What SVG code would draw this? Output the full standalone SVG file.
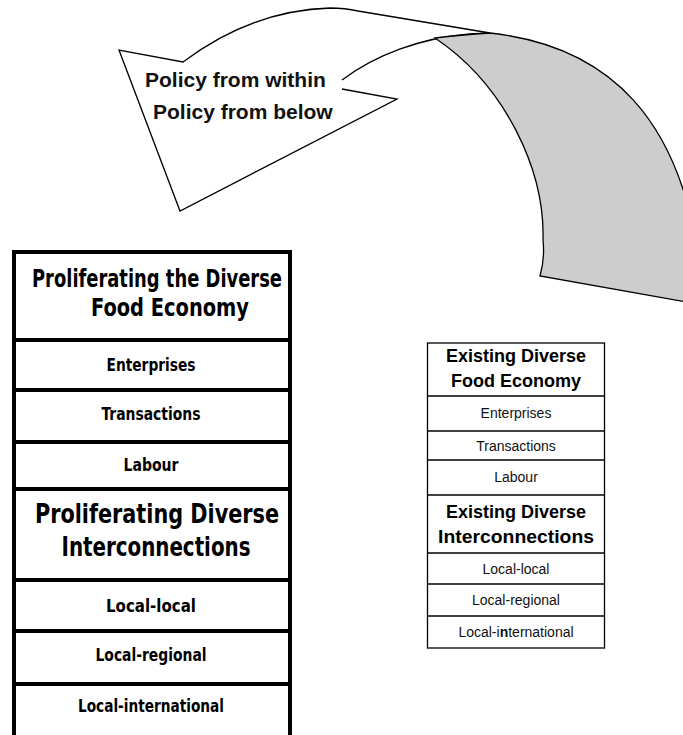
<svg xmlns="http://www.w3.org/2000/svg" width="683" height="735" viewBox="0 0 683 735">
<style>
.ttl{font-family:"Liberation Sans Narrow","DejaVu Sans Condensed","Arial Narrow",sans-serif;font-weight:bold;fill:#000;text-anchor:middle}
.t1{font-size:25px}
.t2{font-size:27px}
.rw{font-size:18px}
.pol{font-family:"Liberation Sans",Arial,sans-serif;font-weight:bold;font-size:21px;fill:#111}
.sm{font-family:"Liberation Sans",Arial,sans-serif;fill:#111;text-anchor:middle;font-size:14px}
.smb{font-family:"Liberation Sans",Arial,sans-serif;fill:#000;text-anchor:middle;font-size:18px;font-weight:bold}
.thick{stroke:#000;stroke-width:4;fill:none}
.thin{stroke:#000;stroke-width:1.3;fill:none}
</style>
<g id="connectors">
  <path d="M342,89 L397,99 L180,211 L119,50 L183,62 C215,38 265,10 330,8 Q345,8 358,11 L490,33 L470,34 C420,38 375,55 342,80 Z" fill="#fff" stroke="none"/>
  <path d="M342,89 L397,99 L180,211 L119,50 L183,62 C215,38 265,10 330,8 Q345,8 358,11 L490,33 M342,80 C375,55 420,38 470,34 L490,33" fill="none" stroke="#000" stroke-width="1.3" stroke-linejoin="miter"/>
  <path d="M435,38 Q460,35 490,33 C600,45 692,110 703,305 L540,276 Q545,258 543,240 C545,170 505,85 435,38 Z" fill="#cdcdcd" stroke="#000" stroke-width="1.3"/>
</g>
<g id="policy-label">
  <text class="pol" x="145" y="87">Policy from within</text>
  <text class="pol" x="153" y="119">Policy from below</text>
</g>
<g id="proliferating-box">
  <rect class="thick" x="14" y="252" width="276" height="500"/>
  <line class="thick" x1="14" y1="340" x2="290" y2="340"/>
  <line class="thick" x1="14" y1="390" x2="290" y2="390"/>
  <line class="thick" x1="14" y1="442" x2="290" y2="442"/>
  <line class="thick" x1="14" y1="489" x2="290" y2="489"/>
  <line class="thick" x1="14" y1="580" x2="290" y2="580"/>
  <line class="thick" x1="14" y1="631" x2="290" y2="631"/>
  <line class="thick" x1="14" y1="684" x2="290" y2="684"/>
  <text class="ttl t1" x="157" y="287" textLength="250" lengthAdjust="spacingAndGlyphs">Proliferating the Diverse</text>
  <text class="ttl t1" x="170" y="316" textLength="158" lengthAdjust="spacingAndGlyphs">Food Economy</text>
  <text class="ttl rw" x="151" y="371" textLength="89" lengthAdjust="spacingAndGlyphs">Enterprises</text>
  <text class="ttl rw" x="151" y="420" textLength="99" lengthAdjust="spacingAndGlyphs">Transactions</text>
  <text class="ttl rw" x="151" y="471" textLength="55" lengthAdjust="spacingAndGlyphs">Labour</text>
  <text class="ttl t2" x="157" y="523" textLength="244" lengthAdjust="spacingAndGlyphs">Proliferating Diverse</text>
  <text class="ttl t2" x="156" y="556" textLength="189" lengthAdjust="spacingAndGlyphs">Interconnections</text>
  <text class="ttl rw" x="151" y="612" textLength="90" lengthAdjust="spacingAndGlyphs">Local-local</text>
  <text class="ttl rw" x="151" y="661" textLength="111" lengthAdjust="spacingAndGlyphs">Local-regional</text>
  <text class="ttl rw" x="151" y="712" textLength="146" lengthAdjust="spacingAndGlyphs">Local-international</text>
</g>
<g id="existing-box">
  <rect class="thin" x="427.5" y="343" width="177" height="305"/>
  <line class="thin" x1="427.5" y1="396" x2="604.5" y2="396"/>
  <line class="thin" x1="427.5" y1="431" x2="604.5" y2="431"/>
  <line class="thin" x1="427.5" y1="460" x2="604.5" y2="460"/>
  <line class="thin" x1="427.5" y1="495" x2="604.5" y2="495"/>
  <line class="thin" x1="427.5" y1="553" x2="604.5" y2="553"/>
  <line class="thin" x1="427.5" y1="584" x2="604.5" y2="584"/>
  <line class="thin" x1="427.5" y1="616" x2="604.5" y2="616"/>
  <text class="smb" x="516" y="362">Existing Diverse</text>
  <text class="smb" x="516" y="387">Food Economy</text>
  <text class="sm" x="516" y="418">Enterprises</text>
  <text class="sm" x="516" y="451">Transactions</text>
  <text class="sm" x="516" y="482">Labour</text>
  <text class="smb" x="516" y="518">Existing Diverse</text>
  <text class="smb" x="516" y="543" textLength="156" lengthAdjust="spacingAndGlyphs">Interconnections</text>
  <text class="sm" x="516" y="574">Local-local</text>
  <text class="sm" x="516" y="605">Local-regional</text>
  <text class="sm" x="516" y="637">Local-i<tspan font-weight="bold">n</tspan>ternational</text>
</g>
</svg>
